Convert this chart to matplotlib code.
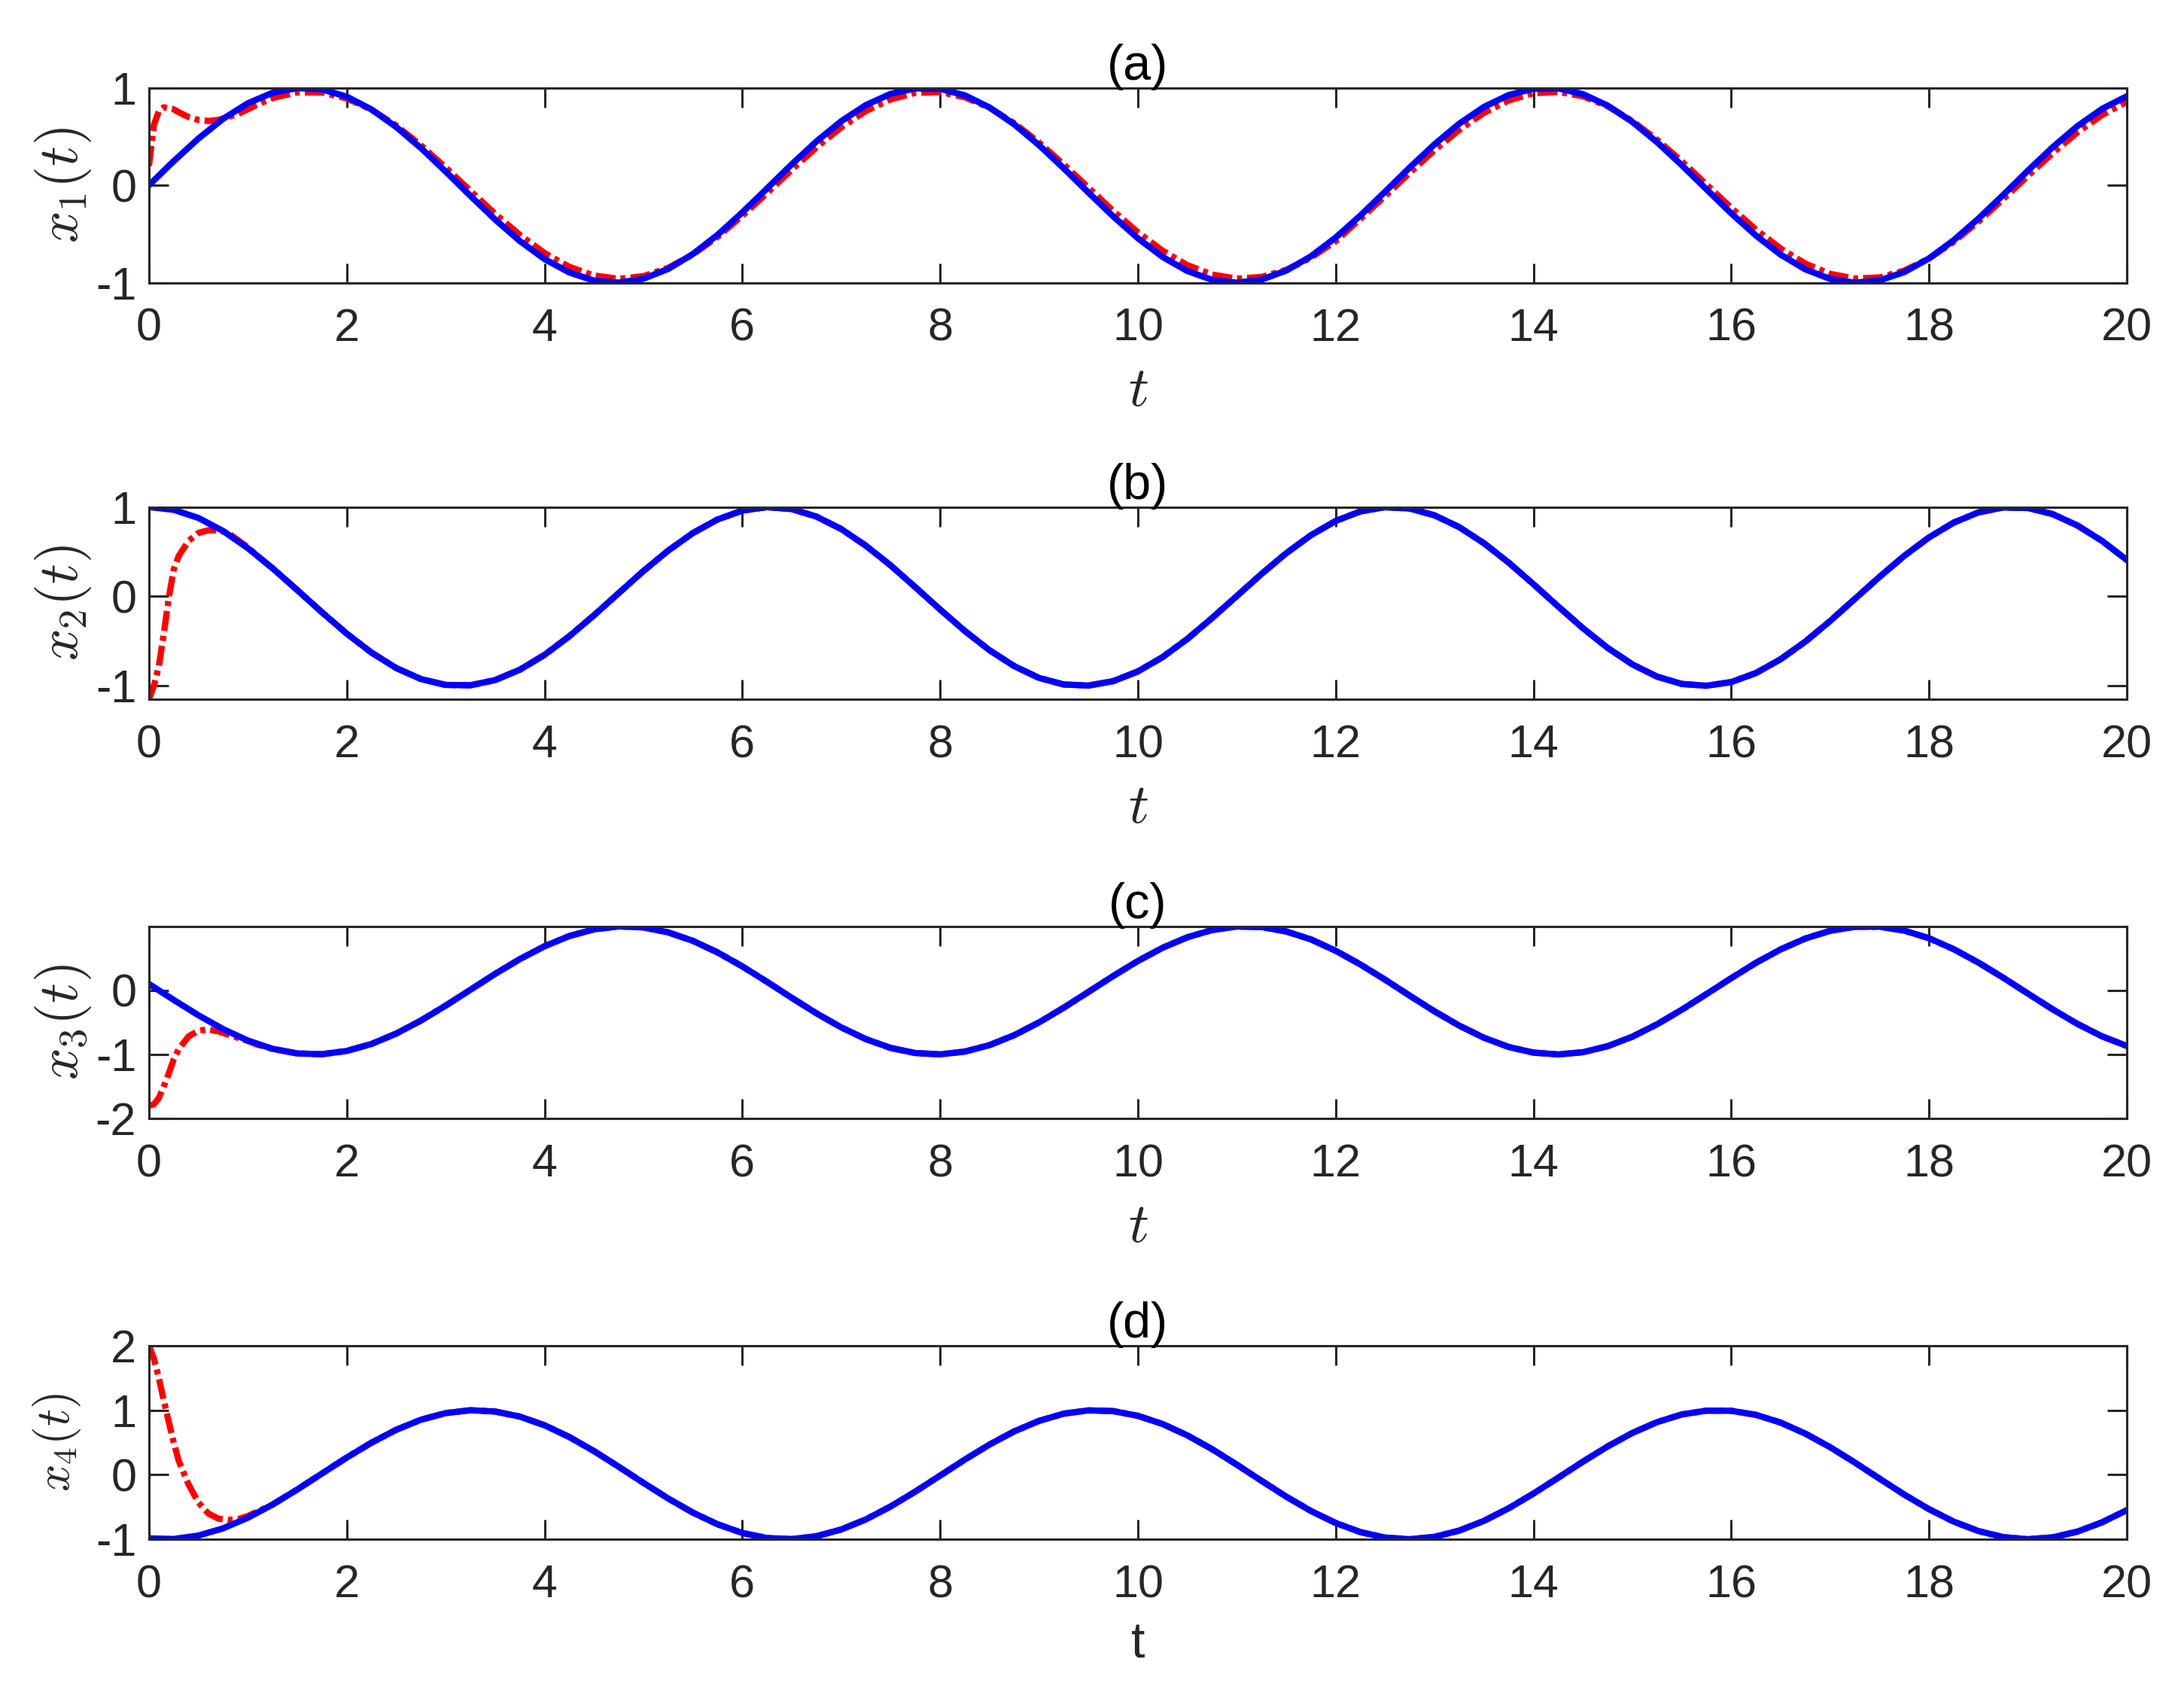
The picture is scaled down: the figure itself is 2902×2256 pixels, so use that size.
import numpy as np
import matplotlib
matplotlib.use("Agg")
import matplotlib.pyplot as plt

# ---------- 数据 ----------
t = np.linspace(0, 20, 81)  # 步长 0.25
t_fine = [0, 0.05, 0.1, 0.15, 0.2, 0.25, 0.3, 0.4, 0.5, 0.6, 0.7, 0.8, 0.9, 1.0, 1.1]

x1_true = [0.000, 0.247, 0.479, 0.682, 0.841, 0.949, 0.997, 0.984, 0.909, 0.778,
           0.598, 0.382, 0.141, -0.108, -0.351, -0.572, -0.757, -0.895, -0.978, -0.999,
           -0.959, -0.859, -0.706, -0.509, -0.279, -0.033, 0.215, 0.450, 0.657, 0.823,
           0.938, 0.994, 0.989, 0.923, 0.798, 0.625, 0.412, 0.174, -0.075, -0.319,
           -0.544, -0.735, -0.880, -0.970, -1.000, -0.968, -0.876, -0.729, -0.537, -0.311,
           -0.066, 0.183, 0.420, 0.632, 0.804, 0.926, 0.991, 0.994, 0.935, 0.818,
           0.650, 0.442, 0.206, -0.042, -0.288, -0.516, -0.712, -0.863, -0.961, -1.000,
           -0.976, -0.891, -0.751, -0.564, -0.342, -0.100, 0.150, 0.390, 0.606, 0.784,
           0.913]
x2_true = [1.000, 0.969, 0.878, 0.732, 0.540, 0.315, 0.071, -0.178, -0.416, -0.628,
           -0.801, -0.924, -0.990, -0.994, -0.936, -0.820, -0.654, -0.446, -0.211, 0.037,
           0.284, 0.512, 0.709, 0.861, 0.960, 0.999, 0.977, 0.893, 0.754, 0.567,
           0.347, 0.103, -0.146, -0.386, -0.602, -0.780, -0.911, -0.985, -0.997, -0.948,
           -0.839, -0.679, -0.476, -0.242, 0.004, 0.251, 0.483, 0.685, 0.844, 0.951,
           0.998, 0.983, 0.907, 0.775, 0.595, 0.378, 0.137, -0.112, -0.355, -0.575,
           -0.760, -0.897, -0.979, -0.999, -0.958, -0.857, -0.702, -0.505, -0.275, -0.028,
           0.219, 0.454, 0.660, 0.826, 0.940, 0.995, 0.989, 0.921, 0.794, 0.621,
           0.408]
x3_true = [0.100, -0.149, -0.389, -0.605, -0.783, -0.913, -0.985, -0.997, -0.946, -0.837,
           -0.675, -0.472, -0.239, 0.008, 0.256, 0.487, 0.688, 0.847, 0.952, 0.998,
           0.982, 0.905, 0.773, 0.592, 0.374, 0.133, -0.117, -0.359, -0.578, -0.762,
           -0.899, -0.979, -0.999, -0.956, -0.855, -0.700, -0.501, -0.271, -0.025, 0.223,
           0.458, 0.664, 0.828, 0.941, 0.996, 0.988, 0.919, 0.795, 0.618, 0.404,
           0.166, -0.084, -0.328, -0.551, -0.740, -0.884, -0.972, -1.000, -0.966, -0.872,
           -0.724, -0.530, -0.303, -0.058, 0.190, 0.429, 0.639, 0.809, 0.929, 0.992,
           0.993, 0.932, 0.814, 0.642, 0.433, 0.198, -0.050, -0.296, -0.523, -0.718,
           -0.868]
x4_true = [-0.987, -0.996, -0.943, -0.831, -0.667, -0.463, -0.229, 0.019, 0.266, 0.496,
           0.696, 0.852, 0.955, 0.999, 0.980, 0.901, 0.767, 0.585, 0.367, 0.124,
           -0.126, -0.368, -0.587, -0.768, -0.903, -0.981, -0.998, -0.953, -0.849, -0.692,
           -0.492, -0.261, -0.014, 0.234, 0.468, 0.672, 0.834, 0.946, 0.997, 0.986,
           0.913, 0.786, 0.610, 0.397, 0.156, -0.094, -0.339, -0.562, -0.748, -0.889,
           -0.975, -1.000, -0.963, -0.866, -0.715, -0.520, -0.292, -0.047, 0.202, 0.438,
           0.647, 0.815, 0.934, 0.993, 0.991, 0.928, 0.808, 0.637, 0.427, 0.189,
           -0.061, -0.308, -0.534, -0.727, -0.873, -0.967, -1.000, -0.971, -0.882, -0.738,
           -0.549]

# 观测器估计：初始瞬态段（t_fine 上）
x1_est_start = [0.20, 0.62, 0.76, 0.80, 0.79, 0.78, 0.75, 0.70, 0.67, 0.66, 0.67, 0.70, 0.73, 0.78, 0.83]
x2_est_start = [-1.15, -1.00, -0.78, -0.42, -0.02, 0.30, 0.45, 0.62, 0.71, 0.74, 0.74, 0.71, 0.63, 0.55, 0.45]
x3_est_start = [-1.80, -1.78, -1.68, -1.50, -1.30, -1.08, -0.92, -0.72, -0.63, -0.61, -0.64, -0.69, -0.74, -0.79, -0.85]
x4_est_start = [2.00, 1.80, 1.50, 1.15, 0.82, 0.50, 0.22, -0.15, -0.43, -0.60, -0.68, -0.70, -0.69, -0.64, -0.57]

# x1 估计在稳态有轻微幅值/相位误差（t = 1.25 ... 20）
x1_est_tail = [0.895, 0.953, 0.952, 0.891, 0.776, 0.613, 0.410, 0.183, -0.056, -0.292,
               -0.509, -0.695, -0.837, -0.926, -0.960, -0.933, -0.848, -0.710, -0.529, -0.314,
               -0.080, 0.159, 0.389, 0.594, 0.762, 0.881, 0.948, 0.957, 0.903, 0.796,
               0.636, 0.440, 0.214, -0.024, -0.262, -0.482, -0.671, -0.819, -0.916, -0.958,
               -0.941, -0.868, -0.743, -0.574, -0.344, -0.111, 0.128, 0.360, 0.568, 0.743,
               0.870, 0.944, 0.958, 0.913, 0.811, 0.659, 0.467, 0.247, 0.008, -0.231,
               -0.454, -0.649, -0.804, -0.909, -0.957, -0.946, -0.876, -0.751, -0.580, -0.373,
               -0.142, 0.096, 0.329, 0.542, 0.721, 0.856]

t_est = np.concatenate([t_fine, t[5:]])
x1_est = x1_est_start + x1_est_tail
x2_est = x2_est_start + x2_true[5:]
x3_est = x3_est_start + x3_true[5:]
x4_est = x4_est_start + x4_true[5:]

titles = ["(a)", "(b)", "(c)", "(d)"]
ylabels = [r"$x_1(t)$", r"$x_2(t)$", r"$x_3(t)$", r"$x_4(t)$"]
xlabels = [r"$t$", r"$t$", r"$t$", "t"]
ylims = [(-1, 1), (-1.15, 1), (-2, 1), (-1, 2)]
yticks = [[-1, 0, 1], [-1, 0, 1], [-2, -1, 0], [-1, 0, 1, 2]]
xticks = [0, 2, 4, 6, 8, 10, 12, 14, 16, 18, 20]

# ---------- 绘图 ----------
plt.rcParams["font.family"] = ["Liberation Sans", "DejaVu Sans"]
plt.rcParams["mathtext.fontset"] = "cm"
plt.rcParams["axes.unicode_minus"] = False
AX_COLOR = "#262626"

fig = plt.figure(figsize=(14.51, 11.28), dpi=200)
positions = [
    [0.0682, 0.8335, 0.9056, 0.1148],
    [0.0682, 0.5882, 0.9056, 0.1132],
    [0.0682, 0.3413, 0.9056, 0.1132],
    [0.0682, 0.0935, 0.9056, 0.1140],
]
trues = [x1_true, x2_true, x3_true, x4_true]
ests = [x1_est, x2_est, x3_est, x4_est]

for i in range(4):
    ax = fig.add_axes(positions[i])
    ax.plot(t_est, ests[i], color="red", lw=3.0, linestyle=(0, (3.2, 0.8, 0.8, 0.8)),
            solid_joinstyle="round")
    ax.plot(t, trues[i], color="blue", lw=3.0, solid_joinstyle="round")

    ax.set_xlim(0, 20)
    ax.set_ylim(*ylims[i])
    ax.set_xticks(xticks)
    ax.set_yticks(yticks[i])
    ax.tick_params(direction="in", length=9.5, width=1.1, top=True, right=True,
                   labelsize=22, colors=AX_COLOR, pad=12)
    ax.tick_params(axis="y", pad=6)
    for sp in ax.spines.values():
        sp.set_color(AX_COLOR)
        sp.set_linewidth(1.1)

    ax.set_title(titles[i], fontsize=24, pad=4)
    if i < 3:
        ax.set_ylabel(ylabels[i], fontsize=27, color=AX_COLOR, labelpad=1)
        ax.set_xlabel(xlabels[i], fontsize=27, color=AX_COLOR, labelpad=7)
    else:
        ax.set_ylabel(ylabels[i], fontsize=23, color=AX_COLOR, labelpad=6)
        ax.set_xlabel(xlabels[i], fontsize=24, color=AX_COLOR, labelpad=7)

fig.savefig("out.png", dpi=200)
